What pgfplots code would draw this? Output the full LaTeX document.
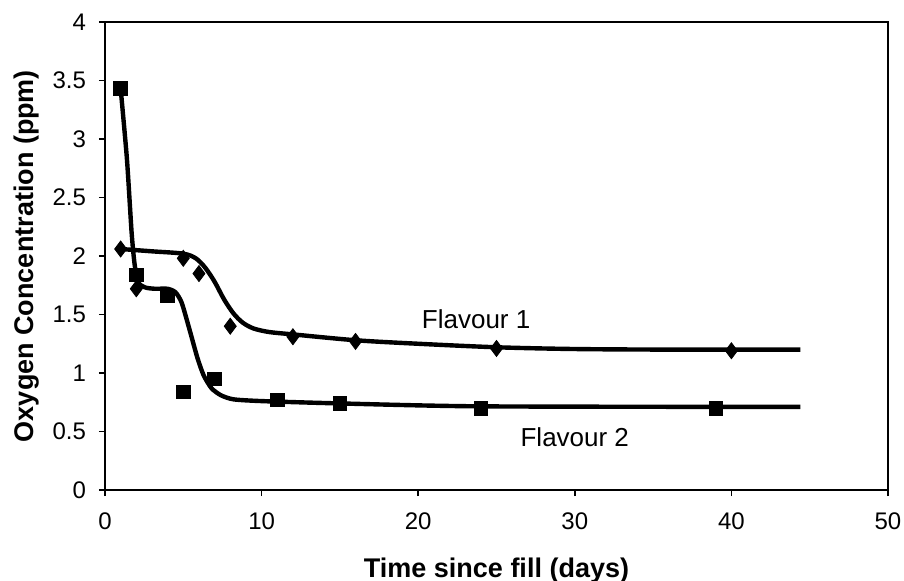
\documentclass[border=0pt]{standalone}
\usepackage{pgfplots}
\pgfplotsset{compat=1.18}
\usepackage{fontspec}
\setmainfont{Liberation Sans}
\begin{document}
\begin{tikzpicture}
\useasboundingbox (-52.5pt,-45pt) rectangle (399.5pt,245pt);
\begin{axis}[
  at={(0,0)}, anchor=origin,
  scale only axis, width=391.5pt, height=234pt,
  xmin=0, xmax=50, ymin=0, ymax=4,
  xtick={0,10,20,30,40,50},
  ytick={0,0.5,1,1.5,2,2.5,3,3.5,4},
  tick align=outside, tick pos=left,
  major tick length=3pt,
  axis line style={line width=0.9pt},
  every tick/.style={black, line width=0.8pt},
  /pgf/number format/assume math mode=true,
  ticklabel style={font=\fontsize{12}{14}\selectfont},
  xticklabel style={yshift=-5pt},
  yticklabel style={xshift=-3pt},
  xlabel={\bfseries Time since fill (days)},
  ylabel={\bfseries Oxygen Concentration (ppm)},
  label style={font=\fontsize{13.5}{15}\selectfont},
  xlabel style={yshift=-7pt},
  ylabel style={yshift=0pt},
  clip=false,
]
% Flavour 1 fitted curve
\addplot[black, line width=2.2pt, smooth, tension=0.5] coordinates {
(1,2.06) (3,2.04) (5,2.02) (5.8,1.98) (6.4,1.90) (7,1.78) (7.6,1.63) (8.2,1.51) (8.8,1.43) (9.5,1.38) (10.5,1.35) (12,1.33) (16,1.28) (20,1.25) (25,1.22) (30,1.205) (36,1.20) (44.4,1.20)};
% Flavour 2 fitted curve
\addplot[black, line width=2.2pt, smooth, tension=0.4] coordinates {
(1,3.43) (1.4,2.83) (1.7,2.20) (1.9,1.92) (2.15,1.77) (2.6,1.73) (3.2,1.72) (4,1.72) (4.5,1.69) (4.9,1.60) (5.4,1.37) (5.9,1.13) (6.3,0.98) (6.8,0.87) (7.4,0.81) (8.2,0.775) (10,0.76) (15,0.74) (24,0.715) (44.4,0.71)};
% Flavour 1 data
\addplot[only marks, mark=diamond*, mark size=4pt, black] coordinates {
(1,2.06) (2,1.72) (5,1.98) (6,1.85) (8,1.40) (12,1.31) (16,1.27) (25,1.21) (40,1.19)};
% Flavour 2 data
\addplot[only marks, mark=square*, mark size=3.4pt, black] coordinates {
(1,3.43) (2,1.84) (4,1.66) (5,0.84) (7,0.95) (11,0.77) (15,0.74) (24,0.70) (39,0.70)};
\node[font=\fontsize{13}{15}\selectfont] at (axis cs:23.7,1.46) {Flavour 1};
\node[font=\fontsize{13}{15}\selectfont] at (axis cs:30,0.45) {Flavour 2};
\end{axis}
\end{tikzpicture}
\end{document}
